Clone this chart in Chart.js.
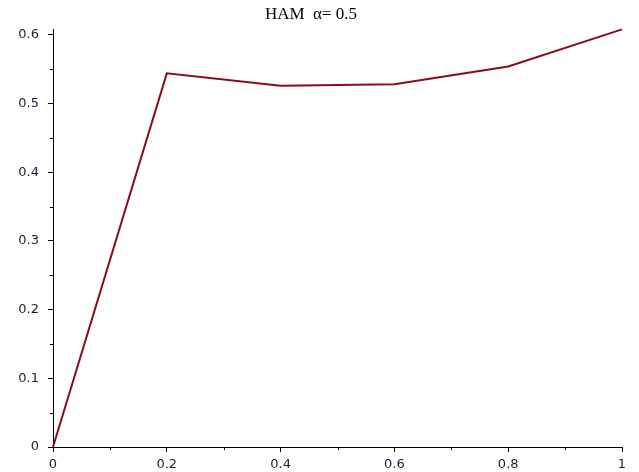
<!DOCTYPE html>
<html>
<head>
<meta charset="utf-8">
<script src="https://cdn.jsdelivr.net/npm/chart.js@4"></script>
<style>
  html, body { margin: 0; padding: 0; background: #fff; }
  #wrap { width: 639px; height: 472px; }
</style>
</head>
<body>
<div id="wrap"><canvas id="hamChart" width="639" height="472"></canvas></div>
<script>
// data
const xValues = [0, 0.2, 0.4, 0.6, 0.8, 1];
const yValues = [0, 0.544, 0.526, 0.528, 0.554, 0.608];
const xMinorTicks = [0.1, 0.3, 0.5, 0.7, 0.9];
const yMinorTicks = [0.05, 0.15, 0.25, 0.35, 0.45, 0.55];
const chartTitle = 'HAM  \u03b1= 0.5';

const lineColor = '#8c0a1e';
const labelColor = '#1c1c3a';

// small minor tick marks like the original plot
const minorTicks = {
    id: 'minorTicks',
    afterDraw(chart) {
        const ctx = chart.ctx;
        const xs = chart.scales.x;
        const ys = chart.scales.y;
        const axisY = ys.getPixelForValue(0);
        const axisX = xs.getPixelForValue(0);
        ctx.save();
        ctx.strokeStyle = '#000';
        ctx.lineWidth = 1;
        ctx.beginPath();
        xMinorTicks.forEach(function(v) {
            const px = Math.round(xs.getPixelForValue(v)) + 0.5;
            ctx.moveTo(px, axisY);
            ctx.lineTo(px, axisY + 3);
        });
        yMinorTicks.forEach(function(v) {
            const py = Math.round(ys.getPixelForValue(v)) + 0.5;
            ctx.moveTo(axisX, py);
            ctx.lineTo(axisX - 3, py);
        });
        ctx.stroke();
        ctx.restore();
    }
};

const ctx = document.getElementById('hamChart').getContext('2d');
new Chart(ctx, {
    type: 'line',
    data: {
        datasets: [{
            data: xValues.map((x, i) => ({ x: x, y: yValues[i] })),
            borderColor: lineColor,
            borderWidth: 2,
            pointRadius: 0,
            tension: 0,
            fill: false,
            clip: false
        }]
    },
    options: {
        responsive: false,
        animation: false,
        layout: { padding: { left: 0, right: 17, top: 0, bottom: 0 } },
        plugins: {
            legend: { display: false },
            tooltip: { enabled: false },
            title: {
                display: true,
                text: chartTitle,
                color: '#000',
                font: { family: 'Liberation Serif', size: 17, weight: 'normal' },
                padding: { top: 4, bottom: 5 }
            }
        },
        scales: {
            x: {
                type: 'linear',
                min: 0,
                max: 1,
                afterFit: function(scale) { scale.height = 25; },
                ticks: {
                    stepSize: 0.2,
                    color: labelColor,
                    padding: 5,
                    maxRotation: 0,
                    font: { family: 'DejaVu Sans', size: 13 },
                    callback: function(v) { return String(Math.round(v * 10) / 10); }
                },
                grid: {
                    drawOnChartArea: false,
                    drawTicks: true,
                    tickLength: 5,
                    tickColor: '#000'
                },
                border: { display: true, color: '#000', width: 1 }
            },
            y: {
                min: 0,
                max: 0.608,
                afterFit: function(scale) { scale.width = 53; },
                ticks: {
                    stepSize: 0.1,
                    includeBounds: false,
                    color: labelColor,
                    padding: 9,
                    font: { family: 'DejaVu Sans', size: 13 },
                    callback: function(v) { return String(Math.round(v * 10) / 10); }
                },
                grid: {
                    drawOnChartArea: false,
                    drawTicks: true,
                    tickLength: 5,
                    tickColor: '#000'
                },
                border: { display: true, color: '#000', width: 1 }
            }
        }
    },
    plugins: [minorTicks]
});
</script>
</body>
</html>
